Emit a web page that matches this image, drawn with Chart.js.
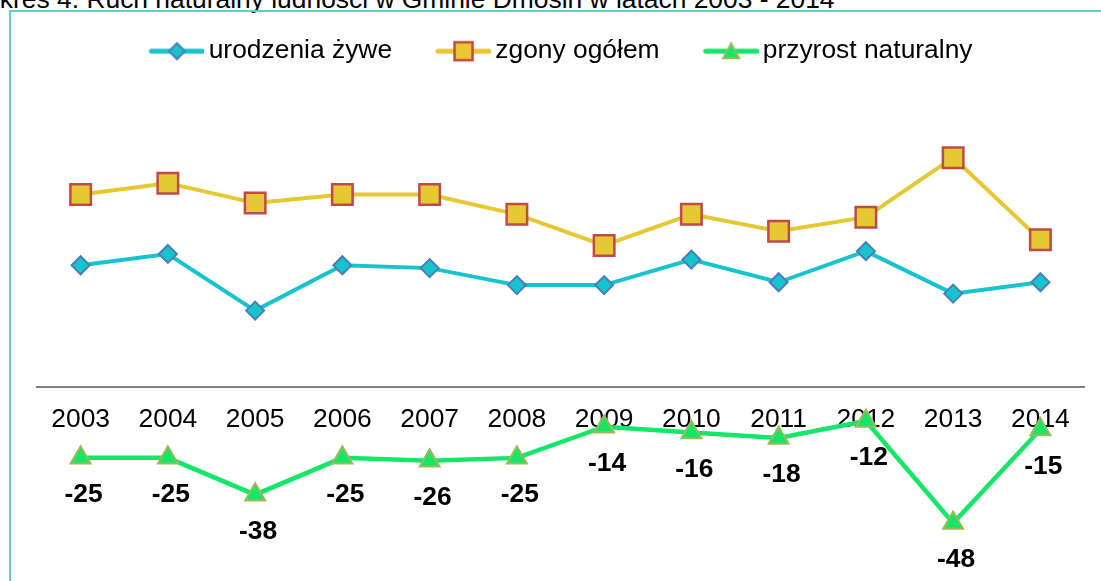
<!DOCTYPE html>
<html>
<head>
<meta charset="utf-8">
<script src="https://cdn.jsdelivr.net/npm/chart.js@4/dist/chart.umd.min.js"></script>
<style>
  body { margin: 0; background: #fff; width: 1101px; height: 581px; overflow: hidden; position: relative; }
  .tytul { position: absolute; top: -14px; left: -38px; font: 26.4px "Liberation Sans", Arial, sans-serif; line-height: 26.4px; white-space: nowrap; color: #000; }
  .ramka { position: absolute; left: 9px; top: 10px; width: 1100px; height: 580px; border-left: 2px solid #66cfc3; border-top: 2px solid #66cfc3; }
  #wykres { position: absolute; left: 0; top: 0; }
</style>
</head>
<body>
<div class="tytul">Wykres 4. Ruch naturalny ludności w Gminie Dmosin w latach 2003 - 2014</div>
<div class="ramka"></div>
<canvas id="wykres" width="1101" height="581"></canvas>
<script>
//dane
const lata = ['2003', '2004', '2005', '2006', '2007', '2008', '2009', '2010', '2011', '2012', '2013', '2014'];
const urodzenia = [43, 47, 27, 43, 42, 36, 36, 45, 37, 48, 33, 37];
const zgony = [68, 72, 65, 68, 68, 61, 50, 61, 55, 60, 81, 52];
const przyrost = [-25, -25, -38, -25, -26, -25, -14, -16, -18, -12, -48, -15];

const czcionka = '"Liberation Sans", Arial, sans-serif';

//ikonka legendy: linia + znacznik (obraz szerszy niz pole, zeby tekst byl blisko linii)
function ikonka(kolorLinii, rysujZnacznik) {
  const c = document.createElement('canvas');
  c.width = 64; c.height = 30;
  const ctx = c.getContext('2d');
  ctx.strokeStyle = kolorLinii;
  ctx.lineWidth = 5;
  ctx.lineCap = 'round';
  ctx.beginPath();
  ctx.moveTo(11, 15); ctx.lineTo(62, 15);
  ctx.stroke();
  rysujZnacznik(ctx, 36.5, 15);
  return c;
}

const ikonaUrodzenia = ikonka('#17c3cc', (ctx, x, y) => {
  ctx.beginPath();
  ctx.moveTo(x, y - 8); ctx.lineTo(x + 8, y); ctx.lineTo(x, y + 8); ctx.lineTo(x - 8, y); ctx.closePath();
  ctx.fillStyle = '#17c3cc'; ctx.fill();
  ctx.lineWidth = 2; ctx.strokeStyle = '#4a7ebb'; ctx.stroke();
});
const ikonaZgony = ikonka('#e6c832', (ctx, x, y) => {
  ctx.fillStyle = '#e6c832';
  ctx.fillRect(x - 9, y - 9, 18, 18);
  ctx.lineWidth = 2.5; ctx.strokeStyle = '#be4b48';
  ctx.strokeRect(x - 9, y - 9, 18, 18);
});
const ikonaPrzyrost = ikonka('#14e668', (ctx, x, y) => {
  ctx.beginPath();
  ctx.moveTo(x, y - 8); ctx.lineTo(x + 8, y + 7); ctx.lineTo(x - 8, y + 7); ctx.closePath();
  ctx.fillStyle = '#14e668'; ctx.fill();
  ctx.lineWidth = 2; ctx.strokeStyle = '#9bbb59'; ctx.stroke();
});
const ikony = [ikonaUrodzenia, ikonaZgony, ikonaPrzyrost];

//etykiety wartosci pod punktami przyrostu
const etykiety = {
  id: 'etykiety',
  afterDatasetsDraw(chart) {
    const ctx = chart.ctx;
    const meta = chart.getDatasetMeta(2);
    ctx.save();
    ctx.font = 'bold 26.4px ' + czcionka;
    ctx.fillStyle = '#000';
    ctx.textAlign = 'center';
    ctx.textBaseline = 'middle';
    meta.data.forEach((pkt, i) => {
      ctx.fillText(String(przyrost[i]), pkt.x + 3, pkt.y + 37);
    });
    ctx.restore();
  }
};

new Chart(document.getElementById('wykres'), {
  type: 'line',
  data: {
    labels: lata,
    datasets: [{
      label: 'urodzenia żywe',
      data: urodzenia,
      borderColor: '#17c3cc',
      borderWidth: 4,
      pointStyle: 'rectRot',
      pointRadius: 9,
      pointBackgroundColor: '#17c3cc',
      pointBorderColor: '#4a7ebb',
      pointBorderWidth: 2,
      tension: 0
    }, {
      label: 'zgony ogółem',
      data: zgony,
      borderColor: '#e6c832',
      borderWidth: 4,
      pointStyle: 'rect',
      pointRadius: 14.5,
      pointBackgroundColor: '#e6c832',
      pointBorderColor: '#be4b48',
      pointBorderWidth: 2.5,
      tension: 0
    }, {
      label: 'przyrost naturalny',
      data: przyrost,
      borderColor: '#14e668',
      borderWidth: 4.5,
      pointStyle: 'triangle',
      pointRadius: 11.5,
      pointBackgroundColor: '#14e668',
      pointBorderColor: '#9bbb59',
      pointBorderWidth: 2,
      tension: 0
    }]
  },
  options: {
    responsive: false,
    animation: false,
    layout: { padding: { top: -6, left: 37, right: 16, bottom: 24 } },
    plugins: {
      legend: {
        labels: {
          usePointStyle: true,
          pointStyleWidth: 46,
          padding: 44,
          color: '#000',
          font: { family: czcionka, size: 26.4 },
          generateLabels(chart) {
            return chart.data.datasets.map((ds, i) => ({
              text: ds.label,
              pointStyle: ikony[i],
              datasetIndex: i,
              hidden: false,
              fontColor: '#000',
              lineWidth: 0
            }));
          }
        }
      },
      tooltip: { enabled: false }
    },
    scales: {
      x: {
        offset: true,
        position: { y: 0 },
        grid: { display: false, drawTicks: false },
        border: { display: true, color: '#808080', width: 2 },
        ticks: { color: '#000', padding: 17, font: { family: czcionka, size: 26.4 } }
      },
      y: {
        display: false,
        min: -60,
        max: 110.4
      }
    }
  },
  plugins: [etykiety]
});
</script>
</body>
</html>
